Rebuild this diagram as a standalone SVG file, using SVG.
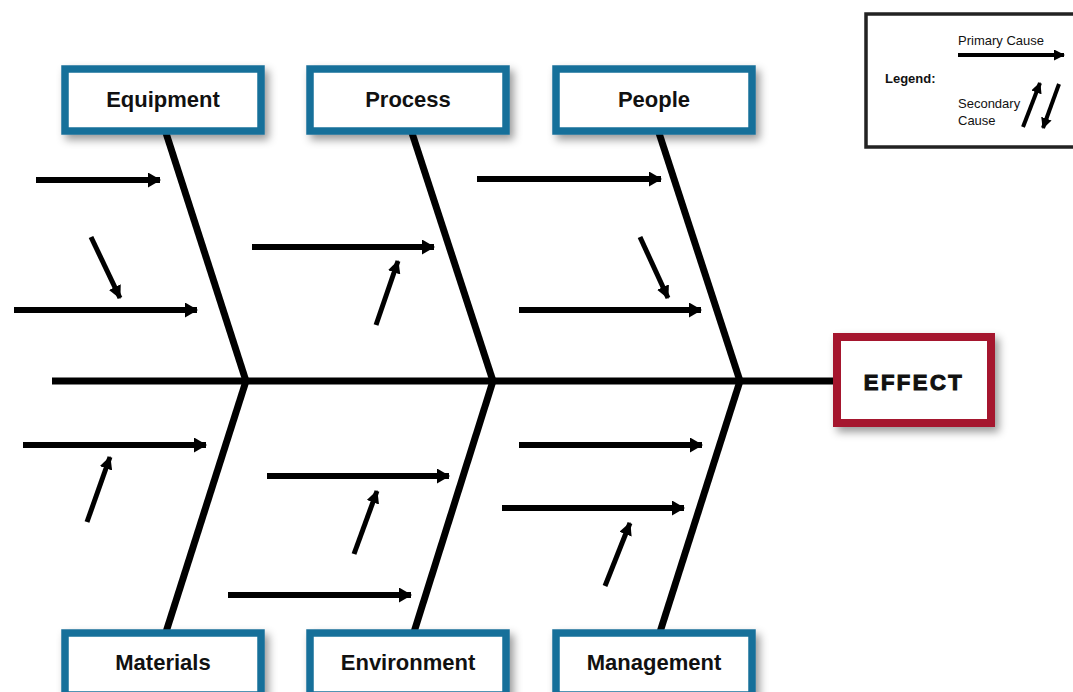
<svg xmlns="http://www.w3.org/2000/svg" width="1073" height="692" viewBox="0 0 1073 692">
<style>
.cat rect{fill:#fff;stroke:#17709a;stroke-width:7.5}
.cat text{font-family:"Liberation Sans",Arial,sans-serif;font-weight:bold;font-size:22px;fill:#111;text-anchor:middle}
.bone{stroke:#000;stroke-width:7;fill:none}
.pri{stroke:#000;stroke-width:6;fill:none;marker-end:url(#ah)}
.sec{stroke:#000;stroke-width:5;fill:none;marker-end:url(#ah2)}
.lg{font-family:"Liberation Sans",Arial,sans-serif;font-size:13px;fill:#111}
</style>
<defs>
<filter id="sh" x="-20%" y="-30%" width="150%" height="170%">
<feDropShadow dx="4" dy="5" stdDeviation="4" flood-color="#000" flood-opacity="0.4"/>
</filter>
<marker id="ah" markerUnits="userSpaceOnUse" markerWidth="13" markerHeight="15" refX="12" refY="7.5" orient="auto" viewBox="0 0 13 15">
<path d="M0,0 L13,7.5 L0,15 z" fill="#000"/>
</marker>
<marker id="ah2" markerUnits="userSpaceOnUse" markerWidth="13" markerHeight="13" refX="12" refY="6.5" orient="auto" viewBox="0 0 13 13">
<path d="M0,0 L13,6.5 L0,13 z" fill="#000"/>
</marker>
<marker id="ahL" markerUnits="userSpaceOnUse" markerWidth="11" markerHeight="11" refX="10" refY="5.5" orient="auto" viewBox="0 0 11 11">
<path d="M0,0 L11,5.5 L0,11 z" fill="#000"/>
</marker>
</defs>
<rect width="1073" height="692" fill="#fff"/>

<g id="connectors">
<line class="bone" x1="52" y1="381" x2="836" y2="381" stroke-width="8"/>
<line class="bone" x1="166" y1="133" x2="246" y2="381"/>
<line class="bone" x1="412" y1="133" x2="493" y2="381"/>
<line class="bone" x1="659" y1="133" x2="740" y2="381"/>
<line class="bone" x1="246" y1="381" x2="166" y2="632"/>
<line class="bone" x1="493" y1="381" x2="414" y2="632"/>
<line class="bone" x1="740" y1="381" x2="660" y2="632"/>

<line class="pri" x1="36" y1="180" x2="160" y2="180"/>
<line class="sec" x1="91" y1="237" x2="120" y2="298"/>
<line class="pri" x1="14" y1="310" x2="197" y2="310"/>

<line class="pri" x1="252" y1="247" x2="434" y2="247"/>
<line class="sec" x1="376" y1="325" x2="398" y2="261"/>

<line class="pri" x1="477" y1="179" x2="661" y2="179"/>
<line class="sec" x1="640" y1="237" x2="668" y2="298"/>
<line class="pri" x1="519" y1="310" x2="701" y2="310"/>

<line class="pri" x1="23" y1="445" x2="206" y2="445"/>
<line class="sec" x1="87" y1="522" x2="110" y2="457"/>

<line class="pri" x1="267" y1="476" x2="449" y2="476"/>
<line class="sec" x1="354" y1="554" x2="377" y2="491"/>
<line class="pri" x1="228" y1="595" x2="411" y2="595"/>

<line class="pri" x1="519" y1="445" x2="702" y2="445"/>
<line class="pri" x1="502" y1="508" x2="684" y2="508"/>
<line class="sec" x1="605" y1="586" x2="630" y2="523"/>
</g>

<g id="equipment" class="cat"><rect x="65" y="69" width="196" height="62" filter="url(#sh)"/><text x="163" y="107">Equipment</text></g>
<g id="process" class="cat"><rect x="310" y="69" width="196" height="62" filter="url(#sh)"/><text x="408" y="107">Process</text></g>
<g id="people" class="cat"><rect x="556" y="69" width="196" height="62" filter="url(#sh)"/><text x="654" y="107">People</text></g>
<g id="materials" class="cat"><rect x="65" y="633" width="196" height="62" filter="url(#sh)"/><text x="163" y="670">Materials</text></g>
<g id="environment" class="cat"><rect x="310" y="633" width="196" height="62" filter="url(#sh)"/><text x="408" y="670">Environment</text></g>
<g id="management" class="cat"><rect x="556" y="633" width="196" height="62" filter="url(#sh)"/><text x="654" y="670">Management</text></g>

<g id="effect">
<rect x="837" y="337" width="154" height="86" fill="#fff" stroke="#a5152f" stroke-width="8" filter="url(#sh)"/>
<text x="914" y="390" font-family="Liberation Sans,Arial,sans-serif" font-weight="bold" font-size="22" letter-spacing="2.5" text-anchor="middle" fill="#111" stroke="#111" stroke-width="1.1">EFFECT</text>
</g>

<g id="legend">
<rect x="866" y="14" width="220" height="133" fill="#fff" stroke="#222" stroke-width="3.5"/>
<text class="lg" x="958" y="45">Primary Cause</text>
<line x1="958" y1="55" x2="1064" y2="55" stroke="#000" stroke-width="4" marker-end="url(#ahL)"/>
<text class="lg" x="885" y="83" font-weight="bold">Legend:</text>
<text class="lg" x="958" y="108">Secondary</text>
<text class="lg" x="958" y="125">Cause</text>
<line x1="1023" y1="127" x2="1040" y2="83" stroke="#000" stroke-width="4" marker-end="url(#ahL)"/>
<line x1="1059" y1="84" x2="1043" y2="128" stroke="#000" stroke-width="4" marker-end="url(#ahL)"/>
</g>
</svg>
